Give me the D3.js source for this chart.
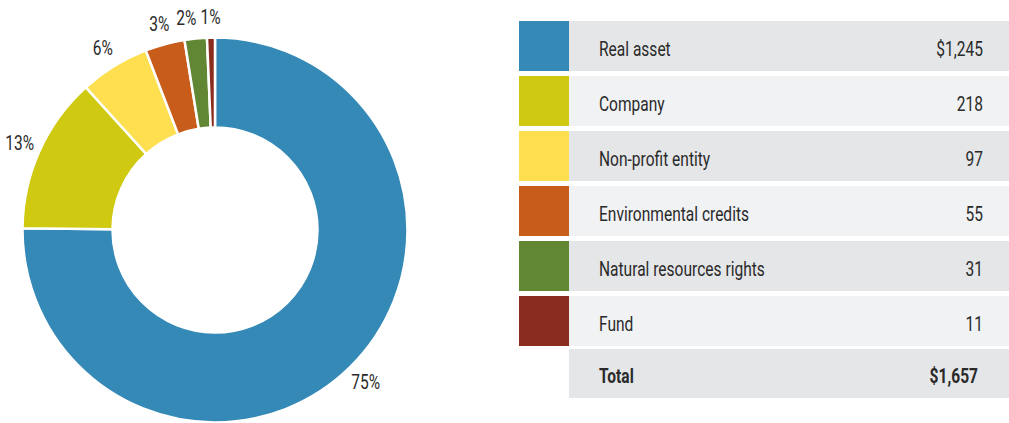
<!DOCTYPE html>
<html><head><meta charset="utf-8">
<script src="https://cdn.jsdelivr.net/npm/d3@7"></script>
<style>
html,body{margin:0;padding:0;background:#fff;}
svg{display:block;}
text{font-family:Roboto,"DejaVu Sans",sans-serif;fill:#2a2a2a;}
</style></head>
<body>
<svg id="chart" width="1009" height="423"></svg>
<script>
const categories = ["Real asset","Company","Non-profit entity","Environmental credits","Natural resources rights","Fund"];
const values = [1245,218,97,55,31,11];
const valueLabels = ["$1,245","218","97","55","31","11"];
const pctLabels = ["75%","13%","6%","3%","2%","1%"];
const colors = ["#3589b6","#cfc912","#fedf50","#c85c1a","#618735","#8a2d1e"];
const totalLabel = "Total";
const totalValue = "$1,657";

const SX = 0.74;      // horizontal condensing of the font
const FS = 21;        // font size, px

const svg = d3.select("#chart");
const cx = 215, cy = 230, rOuter = 192.5, rInner = 102.5;

const pie = d3.pie().sort(null).value(d => d)(values);
const arc = d3.arc().innerRadius(rInner).outerRadius(rOuter);
const g = svg.append("g").attr("transform", `translate(${cx},${cy})`);
g.selectAll("path").data(pie).join("path")
  .attr("d", arc)
  .attr("fill", (d,i) => colors[i])
  .attr("stroke", "#fff").attr("stroke-width", 2.5);

// percentage labels at a fixed radius, nudged apart if they collide
const labelArc = d3.arc().innerRadius(214).outerRadius(214);
const lab = pie.map((d,i) => { const c = labelArc.centroid(d); return {x:c[0], y:c[1], t:pctLabels[i]}; });
const lg = g.selectAll("text.pct").data(lab).join("text")
  .attr("class","pct")
  .attr("text-anchor","middle")
  .style("font-size", FS + "px")
  .text(d => d.t);
lg.each(function(d){ d.w = this.getComputedTextLength() * SX; });
for (let i = lab.length - 2; i >= 0; i--) {
  const a = lab[i], b = lab[i+1];
  if (Math.abs(a.y - b.y) < FS && a.x < b.x) {
    const over = (a.x + a.w/2 + 4) - (b.x - b.w/2);
    if (over > 0) a.x -= over;
  }
}
lg.attr("transform", d => `translate(${d.x},${d.y + 7.5}) scale(${SX},1)`);

// table
const tx = 519, sw = 50, tw = 490, pitch = 55, ty = 21, gap = 5;
const n = categories.length + 1;
const y = d3.scaleBand().domain(d3.range(n)).range([ty, ty + pitch*n - gap]).paddingInner(gap/pitch).paddingOuter(0);
const bh = y.bandwidth();
const rowData = categories.map((c,i)=>({c, v:valueLabels[i], col:colors[i], i}));
const rg = svg.append("g").selectAll("g.row").data(rowData).join("g").attr("class","row")
  .attr("transform", d => `translate(0,${y(d.i)})`);
rg.append("rect").attr("x", tx).attr("width", sw).attr("height", bh).attr("fill", d=>d.col);
rg.append("rect").attr("x", tx+sw).attr("width", tw-sw).attr("height", bh)
  .attr("fill", d => d.i % 2 === 0 ? "#e5e6e8" : "#f1f2f4");
rg.append("text").attr("transform", `translate(599,${bh/2 + 9.5}) scale(${SX},1)`)
  .style("font-size", FS + "px").text(d=>d.c);
rg.append("text").attr("transform", `translate(983,${bh/2 + 9.5}) scale(${SX},1)`)
  .attr("text-anchor","end").style("font-size", FS + "px").text(d=>d.v);

const th = 49;
const tg = svg.append("g").attr("transform", `translate(0,${y(categories.length)-2})`);
tg.append("rect").attr("x", tx+sw).attr("width", tw-sw).attr("height", th).attr("fill","#e5e6e8");
tg.append("text").attr("transform", `translate(599,${th/2 + 9.5}) scale(${SX},1)`)
  .style("font-size", FS + "px").style("font-weight","bold").text(totalLabel);
tg.append("text").attr("transform", `translate(978,${th/2 + 9.5}) scale(${SX},1)`)
  .attr("text-anchor","end").style("font-size", FS + "px").style("font-weight","bold").text(totalValue);
</script>
</body></html>
